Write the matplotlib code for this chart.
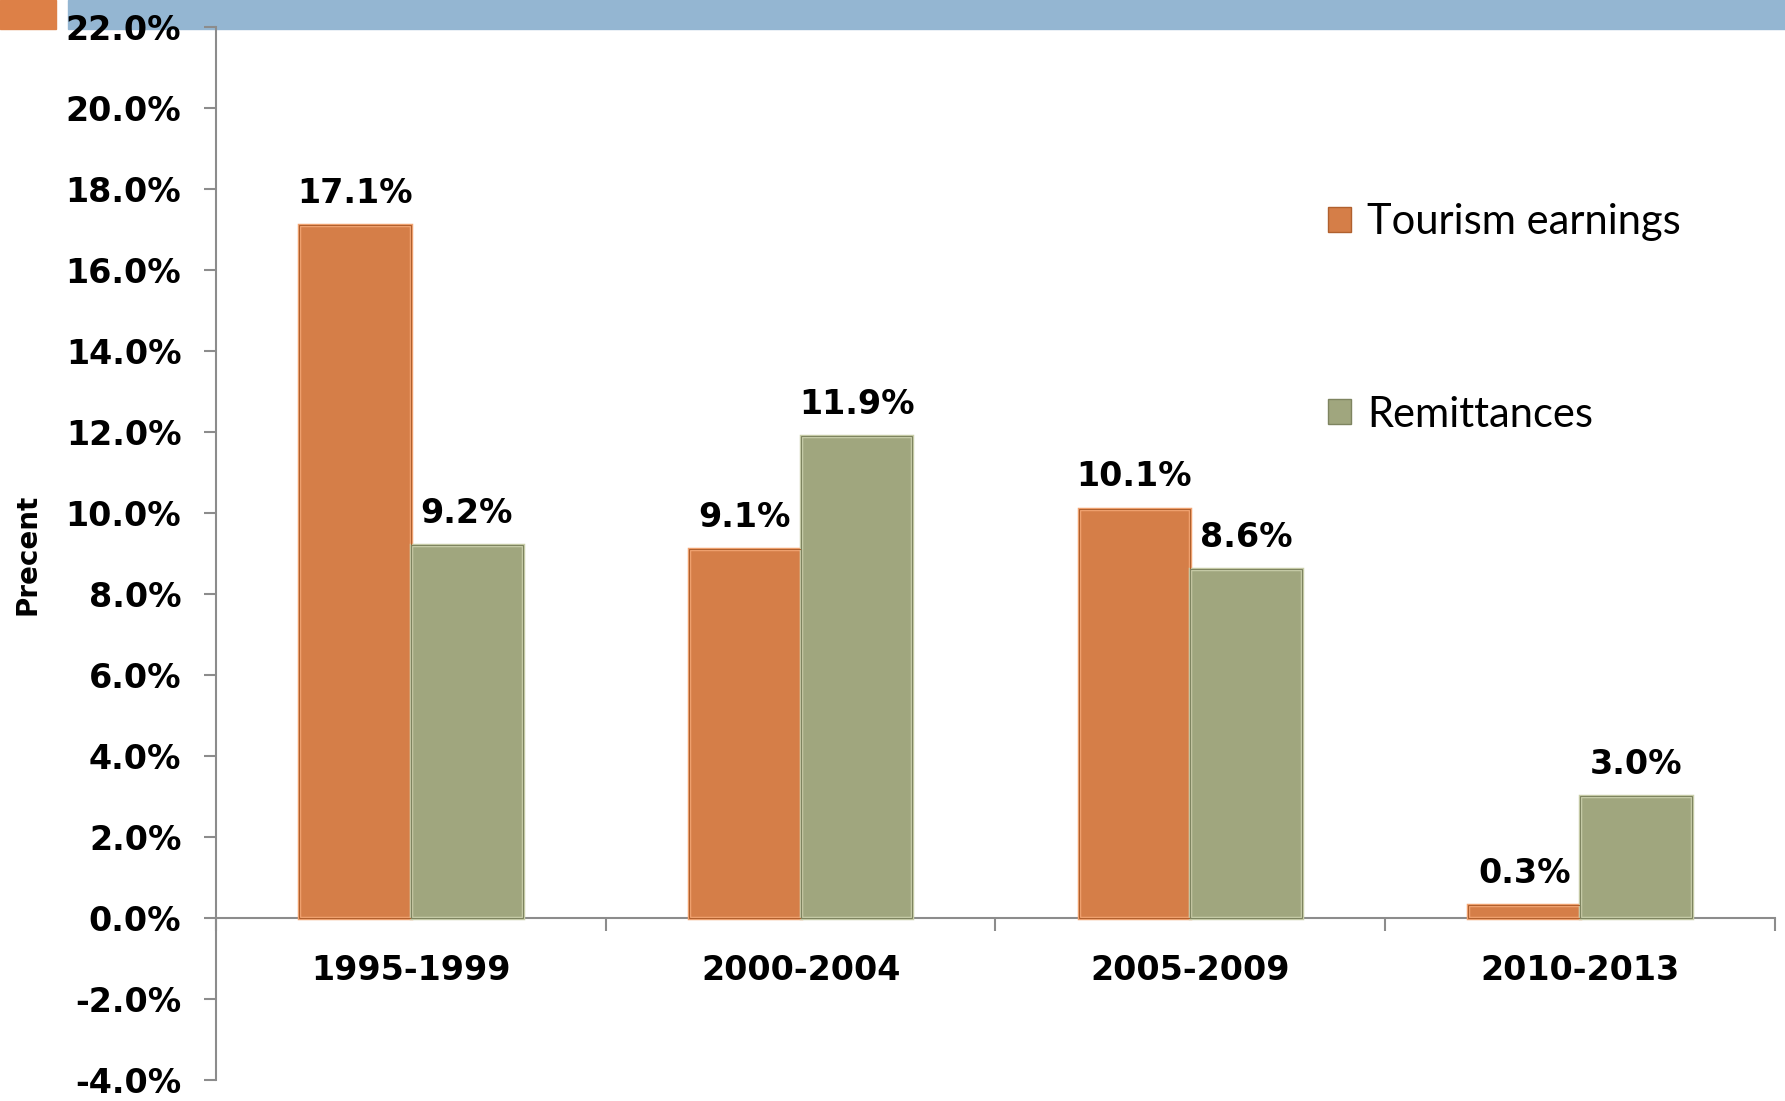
import matplotlib.pyplot as plt
import matplotlib.patches as mpatches
from matplotlib.ticker import FuncFormatter, FixedLocator
import numpy as np

plt.rcParams['font.family'] = ['DejaVu Sans']

# data
periods = ["1995-1999", "2000-2004", "2005-2009", "2010-2013"]
tourism = [17.1, 9.1, 10.1, 0.3]
remit = [9.2, 11.9, 8.6, 3.0]

orange = "#D57E48"
green = "#A0A67E"

fig = plt.figure(figsize=(17.85, 11.01), dpi=100)
ax = fig.add_axes([0.121, 0.0195, 0.8734, 0.956])
ax.set_facecolor("none")
ax.set_zorder(2)

# top band decoration
fig.add_artist(mpatches.Rectangle((0, 1 - 29/1101), 56/1785, 29/1101,
                                  transform=fig.transFigure, color="#DD8047", zorder=0))
fig.add_artist(mpatches.Rectangle((68/1785, 1 - 29/1101), 1 - 68/1785, 29/1101,
                                  transform=fig.transFigure, color="#94B6D2", zorder=0))

x = np.arange(len(periods))
w = 0.287
b1 = ax.bar(x - w/2, tourism, w, color=orange, edgecolor="#F2A472", linewidth=2.5, zorder=3)
b2 = ax.bar(x + w/2, remit, w, color=green, edgecolor="#C9CEAA", linewidth=2.5, zorder=3)
# darker outline round the bevel
ax.bar(x - w/2, tourism, w, color="none", edgecolor="#B0602E", linewidth=0.8, zorder=4)
ax.bar(x + w/2, remit, w, color="none", edgecolor="#7E8460", linewidth=0.8, zorder=4)

fmt = lambda v: "%.1f%%" % v
ax.bar_label(b1, labels=[fmt(v) for v in tourism], padding=11, fontsize=24, fontweight="bold")
ax.bar_label(b2, labels=[fmt(v) for v in remit], padding=11, fontsize=24, fontweight="bold")

ax.set_xlim(-0.5, 3.5)
ax.set_ylim(-4, 22)
ax.set_yticks(np.arange(-4, 22.1, 2))
ax.yaxis.set_major_formatter(FuncFormatter(lambda v, p: "%.1f%%" % v))

ax.spines["top"].set_visible(False)
ax.spines["right"].set_visible(False)
ax.spines["bottom"].set_position(("data", 0))
for s in ["left", "bottom"]:
    ax.spines[s].set_color("#8C8C8C")
    ax.spines[s].set_linewidth(1.5)

ax.set_xticks(x)
ax.set_xticklabels(periods, fontsize=24, fontweight="bold")
ax.xaxis.set_minor_locator(FixedLocator([-0.5, 0.5, 1.5, 2.5, 3.5]))
ax.tick_params(axis="x", which="major", length=0, pad=26)
ax.tick_params(axis="x", which="minor", length=9, width=1.5, color="#8C8C8C")
ax.tick_params(axis="y", length=9, width=1.5, color="#8C8C8C", labelsize=24, pad=16)
for t in ax.get_yticklabels():
    t.set_fontweight("bold")

fig.text(28/1785, 1 - 554/1101, "Precent", rotation=90, fontsize=20,
         fontweight="bold", ha="center", va="center")

handles = [mpatches.Patch(facecolor=orange, edgecolor="#B0602E"),
           mpatches.Patch(facecolor=green, edgecolor="#7E8460")]
ax.legend(handles, ["Tourism earnings", "Remittances"], loc="upper left",
          bbox_to_anchor=(0.689, 0.868), frameon=False,
          prop={"family": "Lato", "size": 30},
          labelspacing=3.7, handlelength=0.55, handleheight=0.55, handletextpad=0.4)

fig.savefig("out.png", dpi=100)
